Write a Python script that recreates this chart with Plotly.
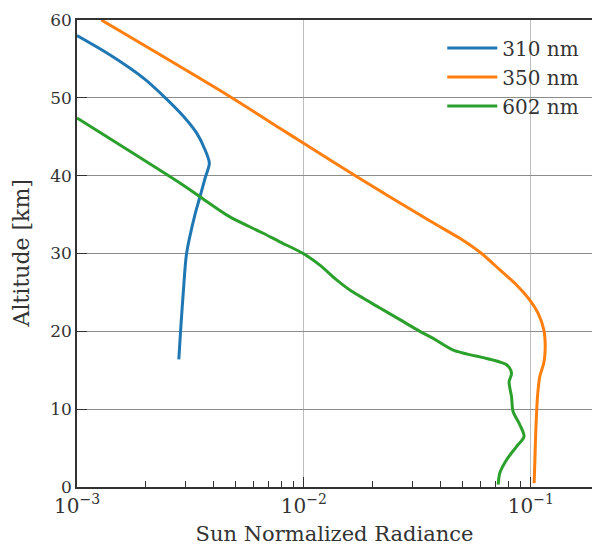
import numpy as np
import plotly.graph_objects as go

# Altitude profiles of sun-normalized radiance
alt_310 = [58.0, 55.5, 52.5, 50.0, 47.6, 45.4, 43.3, 41.6, 39.7, 37.0, 35.0, 30.0, 25.0, 20.0, 16.4]
rad_310 = [0.00100, 0.00140, 0.00197, 0.00245, 0.00295, 0.00338, 0.00367, 0.00383, 0.00367,
           0.00346, 0.00331, 0.00304, 0.00294, 0.00286, 0.00281]

alt_350 = [60.0, 50.4, 46.1, 44.2, 39.9, 34.1, 31.95, 30.0, 27.9, 25.95, 24.0, 22.3,
           20.2, 18.9, 17.3, 15.9, 14.2, 11.6, 7.3, 3.5, 0.5]
rad_350 = [0.00128, 0.00458, 0.00783, 0.00993, 0.01706, 0.0363, 0.04865, 0.06065,
           0.0730, 0.0865, 0.0990, 0.1077, 0.1141, 0.1155, 0.1155, 0.1140, 0.1095, 0.1070,
           0.1052, 0.1042, 0.1034]

alt_602 = [47.4, 38.8, 37.3, 34.7, 32.6, 31.5, 30.0, 28.5, 26.6, 25.3, 23.0, 21.5, 20.0, 19.1,
           17.6, 15.7, 14.6, 13.5, 11.6, 9.7, 8.0, 6.5, 5.2, 3.5, 1.8, 0.3]
rad_602 = [0.00100, 0.00293, 0.00348, 0.00472, 0.00662, 0.00783, 0.00993, 0.01176,
           0.01393, 0.01594, 0.02162, 0.02648, 0.03244, 0.03712, 0.0455, 0.0782, 0.0822,
           0.0802, 0.0822, 0.0835, 0.0894, 0.0933, 0.0865, 0.0782, 0.0730, 0.0718]

series = [("310 nm", rad_310, alt_310, "#1f77b4"),
          ("350 nm", rad_350, alt_350, "#ff7f0e"),
          ("602 nm", rad_602, alt_602, "#2ca02c")]

x_tickvals = [1e-3, 1e-2, 1e-1]
x_ticktext = ["10<sup>−3</sup>", "10<sup>−2</sup>", "10<sup>−1</sup>"]
y_tickvals = [0, 10, 20, 30, 40, 50, 60]

FONT = "DejaVu Serif"
TEXT_COLOR = "#333333"
AXIS_COLOR = "#333333"

fig = go.Figure()
for name, x, y, color in series:
    fig.add_trace(go.Scatter(x=x, y=y, mode="lines", name=name,
                             line=dict(color=color, width=3, shape="spline", smoothing=0.8)))

fig.update_layout(
    width=592, height=546,
    margin=dict(l=77, r=0, t=20, b=59),
    paper_bgcolor="white", plot_bgcolor="white",
    font=dict(family=FONT, size=20, color=TEXT_COLOR),
    showlegend=True,
    legend=dict(x=0.985, y=0.982, xanchor="right", yanchor="top",
                bgcolor="rgba(255,255,255,0)", borderwidth=0,
                font=dict(family=FONT, size=20, color=TEXT_COLOR),
                tracegroupgap=0, itemwidth=50),
)

# vertical axis title placed as rotated text left of the tick labels
fig.add_annotation(
    text="Altitude [km]", textangle=-90,
    xref="paper", yref="paper", x=-0.107, y=0.5,
    xanchor="center", yanchor="middle", showarrow=False,
    font=dict(family=FONT, size=22, color=TEXT_COLOR),
)

fig.update_xaxes(
    type="log", range=[np.log10(1e-3), np.log10(0.186)],
    tickvals=x_tickvals, ticktext=x_ticktext,
    ticks="inside", ticklen=10, tickwidth=1.2, tickcolor=AXIS_COLOR,
    minor=dict(ticks="inside", ticklen=6, tickwidth=1, tickcolor=AXIS_COLOR,
               dtick="D1", showgrid=False),
    showline=True, linecolor=AXIS_COLOR, linewidth=1.5, mirror=True,
    showgrid=True, gridcolor="#bdbdbd", gridwidth=1.2,
    zeroline=False,
    tickfont=dict(family=FONT, size=20, color=TEXT_COLOR),
    title=dict(text="Sun Normalized Radiance", standoff=10,
               font=dict(family=FONT, size=21, color=TEXT_COLOR)),
)

fig.update_yaxes(
    range=[0, 60], tickvals=y_tickvals,
    ticks="inside", ticklen=10, tickwidth=1.2, tickcolor=AXIS_COLOR,
    showline=True, linecolor=AXIS_COLOR, linewidth=1.5,
    showgrid=True, gridcolor="#8c8c8c", gridwidth=1,
    zeroline=False,
    tickfont=dict(family=FONT, size=17, color=TEXT_COLOR),
)

fig.write_html("out.html")
